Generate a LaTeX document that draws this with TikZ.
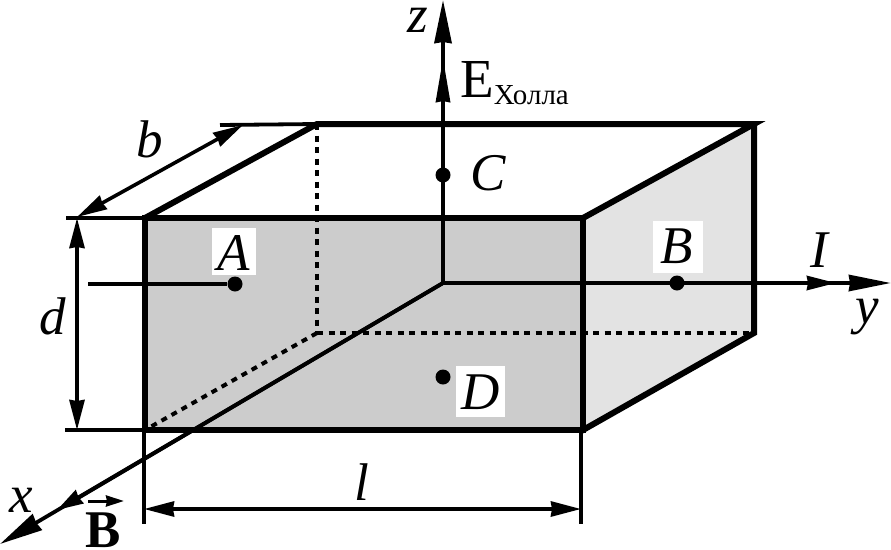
\documentclass[tikz,border=0pt]{standalone}
\usepackage{fontspec}
\setmainfont{Liberation Serif}
\usetikzlibrary{arrows.meta}
\definecolor{frontgray}{gray}{0.8}
\definecolor{sidegray}{gray}{0.89}
\tikzset{
  x=1pt,y=-1pt,
  edge/.style={line width=6pt,line cap=rect,line join=miter},
  hidden/.style={line width=4pt,dash pattern=on 6pt off 5.5pt},
  thinln/.style={line width=3.8pt},
  medhead/.style={-{Stealth[length=44pt,width=14pt,inset=1pt]}},
  dimln/.style={line width=3.6pt,{Stealth[length=30pt,width=15pt,inset=1pt]}-{Stealth[length=30pt,width=15pt,inset=1pt]}},
  dot/.style={circle,fill=black,inner sep=0pt,minimum size=15pt},
  lab/.style={font=\fontsize{53pt}{53pt}\selectfont\itshape,inner sep=0pt,anchor=base},
  whitebg/.style={fill=white,inner sep=0pt}
}
\begin{document}
\begin{tikzpicture}
\useasboundingbox (0,0) rectangle (891,549);
\coordinate (F1) at (145,218); \coordinate (F2) at (583,218);
\coordinate (F3) at (583,430); \coordinate (F4) at (145,430);
\coordinate (B1) at (317,124); \coordinate (B2) at (754,124);
\coordinate (B3) at (754,333); \coordinate (B4) at (317,333);
\coordinate (O) at (443,283);
\fill[frontgray] (F1) rectangle (F3);
\fill[sidegray] (F2) -- (B2) -- (B3) -- (F3) -- cycle;
% white label patches
\node[whitebg,minimum width=44pt,minimum height=47pt] (patchA) at (234,251.5) {};
\node[whitebg,minimum width=50pt,minimum height=52pt] (patchB) at (678,247) {};
\node[whitebg,minimum width=49pt,minimum height=51pt] (patchD) at (480.5,391) {};
% hidden edges
\draw[hidden] (B1) -- (B4);
\draw[hidden] (B4) -- (B3);
\draw[hidden] (B4) -- (F4);
% axes
\coordinate (Ze) at (443,0); \coordinate (Zm) at (443,58);
\coordinate (Ye) at (891,283); \coordinate (Ym) at (836,283);
\coordinate (Xe) at (0,544); \coordinate (Xm) at (57,510);
\draw[thinln,-{Stealth[length=43pt,width=17pt,inset=1pt]}] (O) -- (Ze);
\draw[thinln,medhead] (O) -- (Zm);
\draw[thinln,-{Stealth[length=42pt,width=16pt,inset=1pt]}] (O) -- (Ye);
\draw[thinln,-{Stealth[length=29pt,width=14pt,inset=1pt]}] (O) -- (Ym);
\draw[thinln,-{Stealth[length=43pt,width=18pt,inset=1pt]}] (O) -- (Xe);
\draw[thinln,-{Stealth[length=26pt,width=15pt,inset=1pt]}] (O) -- (Xm);
% box edges
\draw[edge] (F1) -- (F2) -- (F3) -- (F4) -- cycle;
\draw[edge] (F1) -- (B1) -- (B2) -- (F2);
\draw[edge] (B2) -- (B3) -- (F3);
% dimension lines
\coordinate (dT) at (77,218); \coordinate (dB) at (77,430);
\coordinate (lL) at (144,509); \coordinate (lR) at (581,509);
\coordinate (bA) at (77,217); \coordinate (bB) at (243,125);
\coordinate (eA) at (66,218); \coordinate (eB) at (65,430);
\coordinate (eC) at (220,125); \coordinate (eD) at (144,524); \coordinate (eE) at (581,524);
\coordinate (eF) at (581,430);
\draw[thinln] (eA) -- (F1);
\draw[thinln] (eB) -- (F4);
\draw[thinln] (eC) -- (B1);
\draw[thinln] (F4) ++(-1,0) -- (eD);
\draw[thinln] (eF) -- (eE);
\draw[dimln] (dT) -- (dB);
\draw[dimln] (lL) -- (lR);
\draw[dimln] (bA) -- (bB);
% points
\node[dot] (A) at (235,284) {};
\node[dot] (Bp) at (677,283) {};
\node[dot] (C) at (443,175) {};
\node[dot] (D) at (443,377) {};
\coordinate (Ain) at (88,284);
\draw[thinln] (Ain) -- (A);
% labels
\node[lab] (lA) at (234,270) {A};
\node[lab] (lB) at (677,263) {B};
\node[lab] (lC) at (488,190) {C};
\node[lab] (lD) at (481,409) {D};
\node[lab] (lb) at (150,157) {b};
\node[lab] (ld) at (53,334) {d};
\node[lab] (ll) at (362,500) {l};
\node[lab] (lI) at (819,267) {I};
\node[lab] (lx) at (21,512) {x};
\node[lab] (ly) at (867,323) {y};
\node[lab] (lz) at (418,32) {z};
\node[inner sep=0pt,anchor=base west] (lE) at (460,97) {\fontsize{55pt}{55pt}\selectfont E\raisebox{-7pt}{\fontsize{29pt}{29pt}\selectfont Холла}};
\node[inner sep=0pt,anchor=base] (lBv) at (103,547) {\fontsize{53pt}{53pt}\selectfont\bfseries B};
\coordinate (vL) at (88,501); \coordinate (vR) at (124,501);
\draw[line width=3pt,-{Stealth[length=18pt,width=11pt,inset=1pt]}] (vL) -- (vR);
\end{tikzpicture}
\end{document}
